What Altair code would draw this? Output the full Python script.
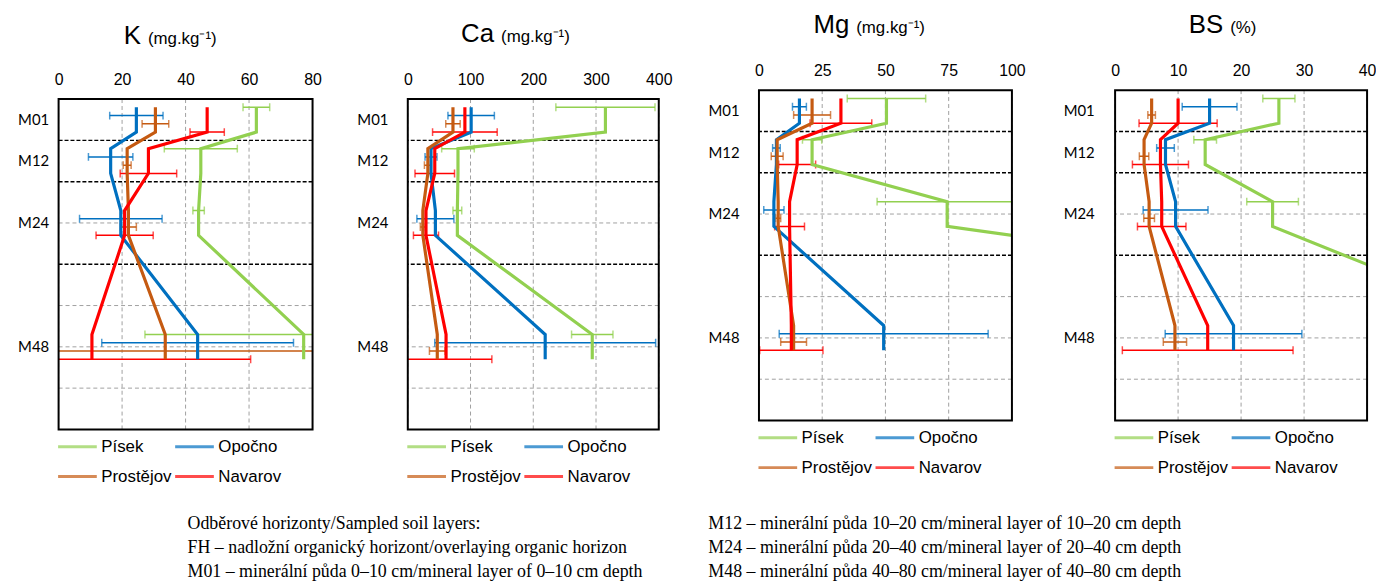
import altair as alt
import pandas as pd

sites = ["Písek", "Opočno", "Prostějov", "Navarov"]
colors = ["#92d050", "#0070c0", "#c55a11", "#ff0000"]
layers = ["M01", "M12", "M24", "M48"]
layer_centers = [0.5, 1.5, 3.0, 6.0]
layer_bounds = [1, 2, 4]
minor_lines = [3, 5, 6, 7]
depth_range = [0, 8]
err_offsets = [-0.3, -0.1, 0.1, 0.3]
seg_half = 0.3

K_mean = {"Písek": [62.3, 44.8, 44.1, 77.2], "Opočno": [24.5, 16.4, 19.6, 43.8],
          "Prostějov": [30.5, 21.6, 22.0, 33.6], "Navarov": [46.8, 28.3, 20.8, 10.5]}
K_err = {"Písek": [4.2, 11.5, 1.8, 50.0], "Opočno": [8.4, 7.0, 13.0, 30.2],
         "Prostějov": [4.2, 1.25, 2.5, 48.0], "Navarov": [5.4, 8.9, 9.0, 50.0]}

Ca_mean = {"Písek": [315, 80, 79, 294], "Opočno": [101, 37, 44, 219],
           "Prostějov": [72, 32, 24, 47], "Navarov": [91, 43, 29, 61]}
Ca_err = {"Písek": [79, 26, 7, 33], "Opočno": [37, 9.5, 29.5, 176],
          "Prostějov": [11.5, 5.5, 4, 12.5], "Navarov": [51.5, 31.5, 20, 73]}

Mg_mean = {"Písek": [50.4, 21.0, 74.4, 360], "Opočno": [16.0, 6.9, 5.9, 49.3],
           "Prostějov": [21.0, 7.2, 7.6, 13.7], "Navarov": [32.4, 15.1, 12.1, 12.8]}
Mg_err = {"Písek": [15.5, 3.8, 27.7, 40], "Opočno": [2.75, 1.5, 4.0, 41.3],
          "Prostějov": [7.3, 2.35, 1.0, 5.1], "Navarov": [12.2, 7.3, 5.9, 12.5]}

BS_mean = {"Písek": [26.0, 14.3, 25.0, 64.0], "Opočno": [15.0, 8.0, 9.6, 18.8],
           "Prostějov": [5.8, 4.6, 5.4, 9.5], "Navarov": [10.0, 7.2, 7.4, 14.7]}
BS_err = {"Písek": [2.55, 1.8, 4.1, 5.0], "Opočno": [4.35, 1.4, 5.15, 10.85],
          "Prostějov": [0.6, 0.75, 0.85, 1.85], "Navarov": [6.2, 4.45, 3.85, 13.55]}

notes_left = ["Odběrové horizonty/Sampled soil layers:",
              "FH – nadložní organický horizont/overlaying organic horizon",
              "M01 – minerální půda 0–10 cm/mineral layer of 0–10 cm depth"]
notes_right = ["M12 – minerální půda 10–20 cm/mineral layer of 10–20 cm depth",
               "M24 – minerální půda 20–40 cm/mineral layer of 20–40 cm depth",
               "M48 – minerální půda 40–80 cm/mineral layer of 40–80 cm depth"]

SANS = "Liberation Sans"
GRID = "#a0a0a0"
label_expr = " : ".join(f"datum.value == {c} ? '{n}'" for c, n in zip(layer_centers[:-1], layers[:-1])) + f" : '{layers[-1]}'"

VIEW_H = 342
PLOT_H = 333


def make_panel(big, unit, mean, err, xmax, xstep, width, big_right, title_y, label_pad, drop):
    line_rows, err_rows = [], []
    for si, s in enumerate(sites):
        for li, c in enumerate(layer_centers):
            v = mean[s][li]
            for k, d in enumerate((-seg_half, seg_half)):
                line_rows.append(dict(site=s, seq=2 * li + k, value=v, depth=c + d))
            e = err[s][li]
            err_rows.append(dict(site=s, lo=v - e, hi=v + e, depth=c + err_offsets[si]))
    lines_df = pd.DataFrame(line_rows)
    err_df = pd.DataFrame(err_rows)
    ticks = list(range(0, xmax + 1, xstep))

    xscale = alt.Scale(domain=[0, xmax], nice=False, zero=False)
    yscale = alt.Scale(domain=depth_range, range=[drop, drop + PLOT_H], nice=False, zero=False)
    xaxis = alt.Axis(orient="top", values=ticks, grid=False, ticks=False,
                     tickSize=0, domain=False, labelFont=SANS, labelFontSize=16,
                     labelColor="black", labelPadding=15 - drop, labelBaseline="alphabetic",
                     labelFlush=False, title=None)
    yaxis = alt.Axis(values=layer_centers, labelExpr=label_expr, ticks=False, tickSize=0,
                     domain=False, grid=False, labelFont="Lato", labelFontSize=15,
                     labelColor="black", labelPadding=label_pad, labelFlush=False, title=None)
    legend = alt.Legend(orient="none", legendX=-2, legendY=340.5 + drop, columns=2,
                        direction="horizontal", symbolType="stroke",
                        symbolSize=1521, symbolStrokeWidth=3, clipHeight=20, rowPadding=10,
                        columnPadding=2, labelFont=SANS, labelFontSize=17, labelOffset=3,
                        labelColor="black", title=None, padding=0)
    color = alt.Color("site:N", scale=alt.Scale(domain=sites, range=colors), legend=legend)
    X = lambda f: alt.X(f, scale=xscale, axis=xaxis)
    Y = alt.Y("depth:Q", scale=yscale, axis=yaxis)

    vgrid = alt.Chart(pd.DataFrame({"t": ticks, "d0": depth_range[0], "d1": depth_range[1]})).mark_rule(
        color=GRID, strokeDash=[4, 3], strokeWidth=1).encode(
        x=X("t:Q"), y=alt.Y("d0:Q", scale=yscale, axis=yaxis), y2="d1:Q")
    minor = alt.Chart(pd.DataFrame({"depth": minor_lines})).mark_rule(
        color=GRID, strokeDash=[4, 3], strokeWidth=1).encode(y=Y)
    bounds = alt.Chart(pd.DataFrame({"depth": layer_bounds})).mark_rule(
        color="black", strokeDash=[4, 2], strokeWidth=1.5).encode(y=Y)
    ebase = alt.Chart(err_df)
    erule = ebase.mark_rule(strokeWidth=1.5, clip=True).encode(
        x=X("lo:Q"), x2="hi:Q", y=Y, color=color)
    cap_lo = ebase.mark_tick(orient="vertical", size=8, thickness=1.5, clip=True).encode(
        x=X("lo:Q"), y=Y, color=color)
    cap_hi = ebase.mark_tick(orient="vertical", size=8, thickness=1.5, clip=True).encode(
        x=X("hi:Q"), y=Y, color=color)
    lines = alt.Chart(lines_df).mark_line(strokeWidth=3.2, clip=True).encode(
        x=X("value:Q"), y=Y, color=color, order=alt.Order("seq:Q"))
    frame = alt.Chart(pd.DataFrame({"x0": [0], "x1": [xmax], "d0": [depth_range[0]],
                                    "d1": [depth_range[1]]})).mark_rect(
        fillOpacity=0, stroke="black", strokeWidth=2).encode(
        x=X("x0:Q"), x2="x1:Q", y=alt.Y("d0:Q", scale=yscale, axis=yaxis), y2="d1:Q")

    tdf = pd.DataFrame({"big": [big], "unit": [unit]})
    big_t = alt.Chart(tdf).mark_text(align="right", baseline="alphabetic", font=SANS,
                                     fontSize=26, color="black").encode(
        text="big:N", x=alt.value(big_right), y=alt.value(drop + title_y))
    unit_t = alt.Chart(tdf).mark_text(align="left", baseline="alphabetic", font=SANS,
                                      fontSize=17, color="black").encode(
        text="unit:N", x=alt.value(big_right + 7), y=alt.value(drop + title_y))
    return alt.layer(vgrid, minor, bounds, erule, cap_lo, cap_hi, lines, frame, big_t,
                     unit_t).properties(width=width, height=VIEW_H)


pK = make_panel("K", "(mg.kg⁻¹)", K_mean, K_err, 80, 20, 256, 83, -56, 10, 9)
pCa = make_panel("Ca", "(mg.kg⁻¹)", Ca_mean, Ca_err, 400, 100, 253, 87, -57.5, 20, 9)
pMg = make_panel("Mg", "(mg.kg⁻¹)", Mg_mean, Mg_err, 100, 25, 255, 91, -57.3, 20, 0)
pBS = make_panel("BS", "(%)", BS_mean, BS_err, 40, 10, 254, 109, -57.3, 21, 0)


def indep(c):
    return c.resolve_scale(x="independent", y="independent", color="independent").resolve_legend(
        color="independent")


left = indep(alt.hconcat(pK, pCa, spacing=35))
right = indep(alt.hconcat(pMg, pBS, spacing=37))
row = indep(alt.hconcat(left, right, spacing=35))

ndf_l = pd.DataFrame({"row": list(range(len(notes_left))), "txt": notes_left})
ndf_r = pd.DataFrame({"row": list(range(len(notes_right))), "txt": notes_right})
ny = alt.Y("row:Q", scale=alt.Scale(domain=[0, 2], range=[28, 76.5]), axis=None)
notes = alt.layer(
    alt.Chart(ndf_l).mark_text(align="left", baseline="alphabetic", font="Liberation Serif",
                               fontSize=18, color="black").encode(
        x=alt.value(130), y=ny, text="txt:N"),
    alt.Chart(ndf_r).mark_text(align="left", baseline="alphabetic", font="Liberation Serif",
                               fontSize=18, color="black").encode(
        x=alt.value(655), y=ny, text="txt:N"),
).properties(width=1100, height=60)

chart = indep(alt.vconcat(row, notes, spacing=14)).properties(
    padding={"left": 9, "top": 1.5, "right": 0, "bottom": 0}
).configure_view(strokeOpacity=0)

chart.save("out.html", embed_options={"renderer": "svg", "actions": False})
